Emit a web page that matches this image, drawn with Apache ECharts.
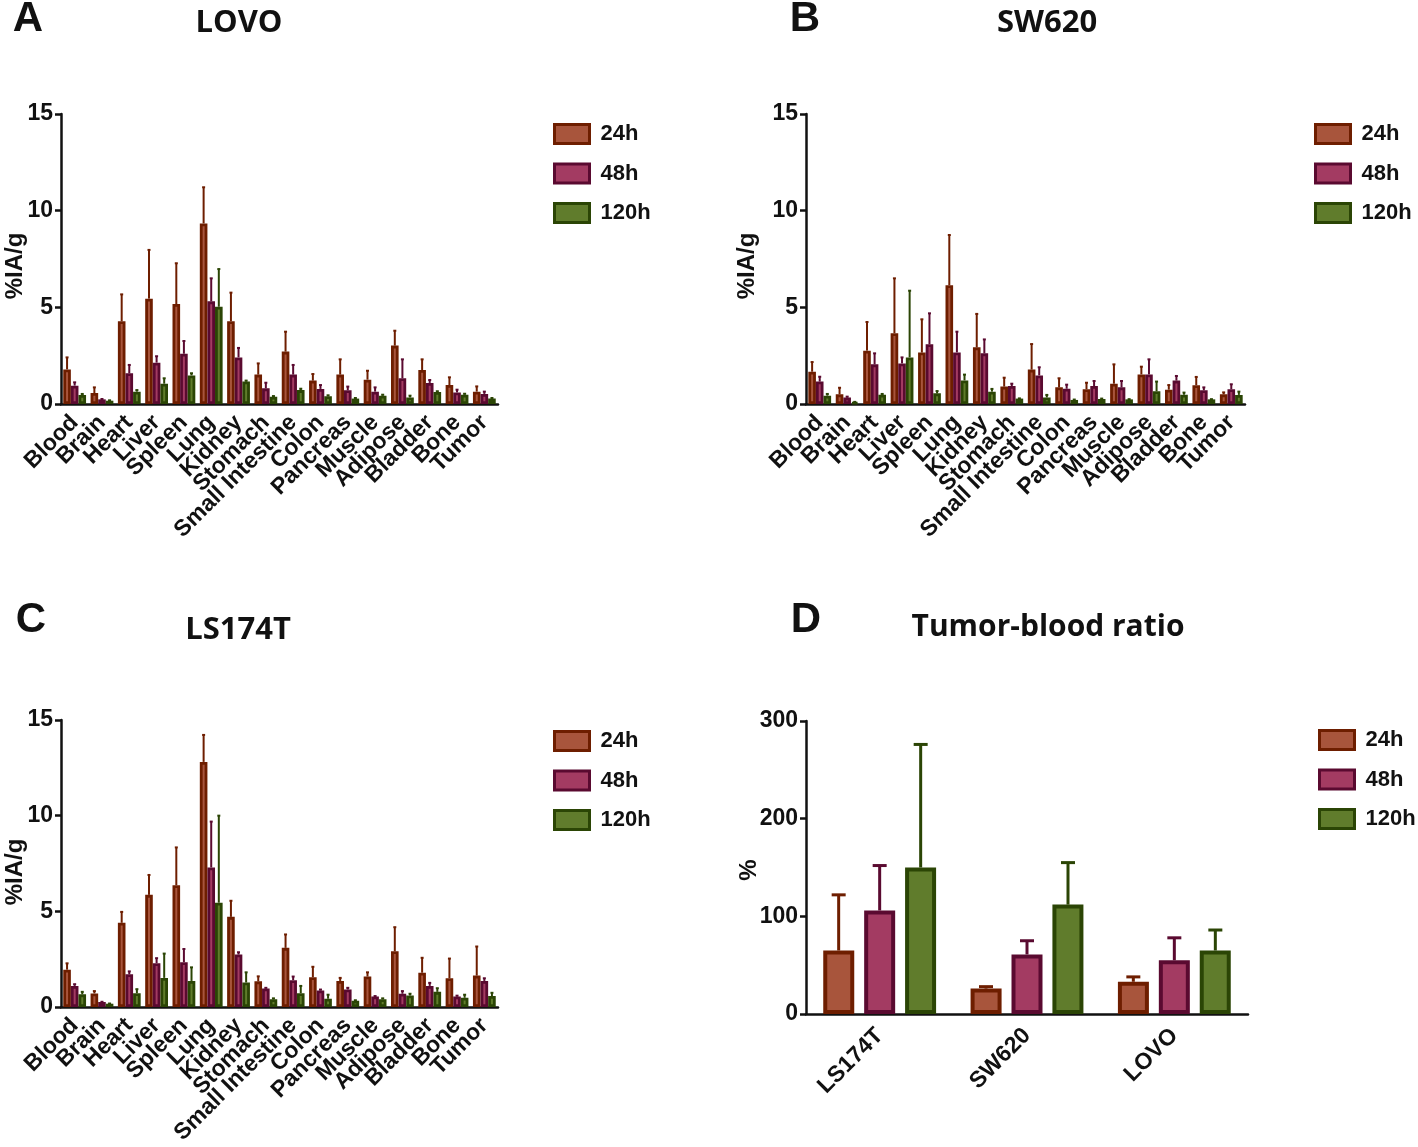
<!DOCTYPE html>
<html><head><meta charset="utf-8">
<script src="https://cdn.jsdelivr.net/npm/echarts@6/dist/echarts.min.js"></script>
<style>html,body{margin:0;padding:0;background:#fff}#c{width:1418px;height:1147px}</style>
</head><body><div id="c"></div>
<script>
const organs = ['Blood','Brain','Heart','Liver','Spleen','Lung','Kidney','Stomach','Small Intestine','Colon','Pancreas','Muscle','Adipose','Bladder','Bone','Tumor'];
const timeNames = ['24h','48h','120h'];
const yTicksOrgan = [0,5,10,15];
const yTicksRatio = [0,100,200,300];

// Panel A: LOVO
const lovo24 = [1.79,0.57,4.28,5.45,5.17,9.34,4.28,1.52,2.71,1.21,1.52,1.26,3.02,1.76,0.98,0.64];
const lovo24Sd = [0.62,0.29,1.39,2.52,2.11,1.87,1.48,0.58,1.03,0.34,0.79,0.46,0.77,0.55,0.40,0.27];
const lovo48 = [0.95,0.24,1.59,2.14,2.60,5.31,2.41,0.81,1.52,0.78,0.71,0.64,1.33,1.09,0.60,0.52];
const lovo48Sd = [0.17,0.02,0.43,0.33,0.66,1.19,0.49,0.29,0.50,0.20,0.19,0.22,0.98,0.15,0.14,0.12];
const lovo120 = [0.47,0.17,0.64,1.05,1.48,5.03,1.16,0.38,0.72,0.40,0.28,0.43,0.34,0.62,0.48,0.29];
const lovo120Sd = [0.05,0.02,0.08,0.28,0.11,1.95,0.05,0.03,0.07,0.05,0.03,0.05,0.09,0.04,0.05,0.02];

// Panel B: SW620
const sw24 = [1.67,0.50,2.76,3.66,2.66,6.14,2.93,0.90,1.78,0.86,0.76,1.05,1.53,0.74,0.97,0.50];
const sw24Sd = [0.50,0.34,1.48,2.84,1.72,2.60,1.73,0.46,1.32,0.47,0.34,1.00,0.40,0.24,0.43,0.10];
const sw48 = [1.16,0.33,2.05,2.10,3.09,2.67,2.62,0.93,1.48,0.79,0.93,0.86,1.53,1.21,0.71,0.76];
const sw48Sd = [0.25,0.05,0.57,0.31,1.60,1.07,0.72,0.12,0.42,0.21,0.26,0.33,0.78,0.24,0.15,0.26];
const sw120 = [0.43,0.10,0.48,2.41,0.55,1.22,0.64,0.28,0.34,0.21,0.26,0.24,0.66,0.48,0.24,0.47];
const sw120Sd = [0.09,0.01,0.04,3.45,0.12,0.30,0.14,0.01,0.13,0.02,0.02,0.01,0.50,0.11,0.01,0.17];

// Panel C: LS174T
const ls24 = [1.95,0.71,4.40,5.86,6.36,12.81,4.71,1.34,3.09,1.55,1.36,1.59,2.91,1.79,1.50,1.64];
const ls24Sd = [0.33,0.12,0.57,1.04,1.98,1.41,0.84,0.26,0.70,0.55,0.16,0.22,1.26,0.78,1.03,1.52];
const ls48 = [1.10,0.26,1.71,2.29,2.34,7.29,2.74,0.97,1.40,0.86,0.91,0.55,0.69,1.10,0.55,1.36];
const ls48Sd = [0.09,0.01,0.15,0.26,0.69,2.40,0.12,0.03,0.19,0.05,0.09,0.02,0.14,0.16,0.04,0.14];
const ls120 = [0.66,0.17,0.72,1.52,1.36,5.45,1.28,0.40,0.72,0.43,0.33,0.40,0.60,0.79,0.48,0.57];
const ls120Sd = [0.13,0.01,0.21,1.27,0.71,4.55,0.53,0.05,0.38,0.21,0.02,0.05,0.09,0.19,0.16,0.17];

// Panel D: Tumor-blood ratio
const cellLines = ['LS174T','SW620','LOVO'];
const ratio24 = [65,26,33];
const ratio24Sd = [57,2,5];
const ratio48 = [106,61,55];
const ratio48Sd = [46,14,23];
const ratio120 = [150,112,65];
const ratio120Sd = [126,43,21];

const fills = ['#a8553c','#a33b62','#607c2c'];
const borders = ['#6e1e00','#5a0a30','#2b4505'];
const AX = '#111';
const F = '"Liberation Sans", Arial, sans-serif';
const FT = '"Open Sans", "Liberation Sans", sans-serif';

const grids = [
  {left:61, top:114, width:437, height:290},
  {left:806, top:114, width:439, height:290},
  {left:61, top:720, width:437, height:290},
  {left:806, top:721, width:442, height:293}
];

function xAx(gi, cats, fs, mg) {
  return {type:'category', gridIndex:gi, data:cats,
    axisLine:{lineStyle:{color:AX,width:2.5}},
    axisTick:{alignWithLabel:true,length:6,lineStyle:{color:AX,width:2.5}},
    axisLabel:{rotate:45,color:AX,fontFamily:F,fontWeight:'bold',fontSize:fs,margin:mg,interval:0}};
}
function yAx(gi, max, iv, fs) {
  return {type:'value', gridIndex:gi, min:0, max:max, interval:iv,
    axisLine:{show:true,lineStyle:{color:AX,width:2.5}},
    axisTick:{show:true,length:6,lineStyle:{color:AX,width:2.5}},
    splitLine:{show:false},
    axisLabel:{color:AX,fontFamily:F,fontWeight:'bold',fontSize:fs,margin:8}};
}
function bar(gi, k, vals, bw, gap, bwid) {
  return {type:'bar', name:timeNames[k], xAxisIndex:gi, yAxisIndex:gi, data:vals,
    barWidth:bw, barGap:gap, z:3,
    itemStyle:{color:fills[k], borderColor:borders[k], borderWidth:bwid}};
}
function err(gi, k, vals, sds, spacing, lw, cap) {
  const off = (k-1)*spacing;
  return {type:'custom', xAxisIndex:gi, yAxisIndex:gi, z:2,
    data: vals.map((v,i)=>[i, v, v+sds[i]]),
    encode:{x:0,y:1},
    renderItem:(p,api)=>{
      const b = api.coord([api.value(0), api.value(1)]);
      const t = api.coord([api.value(0), api.value(2)]);
      const x = b[0]+off;
      return {type:'group', children:[
        {type:'line', shape:{x1:x,y1:b[1],x2:x,y2:t[1]}, style:{stroke:borders[k],lineWidth:lw}},
        {type:'line', shape:{x1:x-cap/2,y1:t[1],x2:x+cap/2,y2:t[1]}, style:{stroke:borders[k],lineWidth:lw}}
      ]};
    }};
}
function legend(left, top) {
  return {data:timeNames.map(n=>({name:n, icon:'rect'})), left:left, top:top, orient:'vertical', itemWidth:35, itemHeight:19, itemGap:17.5,
    itemStyle:{borderWidth:3}, selectedMode:false,
    textStyle:{color:AX,fontFamily:F,fontWeight:'bold',fontSize:22,padding:[0,0,0,6]}};
}

const organSets = [
  [[lovo24,lovo24Sd],[lovo48,lovo48Sd],[lovo120,lovo120Sd]],
  [[sw24,sw24Sd],[sw48,sw48Sd],[sw120,sw120Sd]],
  [[ls24,ls24Sd],[ls48,ls48Sd],[ls120,ls120Sd]]
];
const ratioSet = [[ratio24,ratio24Sd],[ratio48,ratio48Sd],[ratio120,ratio120Sd]];

const series = [];
organSets.forEach((set,gi)=>{
  set.forEach((s,k)=>{
    series.push(bar(gi,k,s[0],7.6,'0%',2.8));
    series.push(err(gi,k,s[0],s[1],7.6,2,3));
  });
});
ratioSet.forEach((s,k)=>{
  series.push(bar(3,k,s[0],31,'32%',4));
  series.push(err(3,k,s[0],s[1],41,3,14));
});

function txt(x,y,t,fs,fam,rot){
  return {type:'text', x:x, y:y, rotation:rot||0,
    style:{text:t, fontSize:fs, fontFamily:fam, fontWeight:'bold', fill:AX, textAlign:'center', textVerticalAlign:'middle'}};
}

const option = {
  animation:false,
  grid:grids,
  xAxis:[xAx(0,organs,23,15),xAx(1,organs,23,15),xAx(2,organs,23,15),xAx(3,cellLines,23,18)],
  yAxis:[yAx(0,15,5,23),yAx(1,15,5,23),yAx(2,15,5,23),yAx(3,300,100,23)],
  legend:[legend(548,118),legend(1309,118),legend(548,725),legend(1313,724)],
  series:series,
  graphic:[
    txt(28,19,'A',42,F), txt(805,19,'B',42,F), txt(31,620,'C',42,F), txt(806,620,'D',42,F),
    txt(239,23,'LOVO',31,FT), txt(1047,23,'SW620',31,FT), txt(238,630,'LS174T',31,FT), txt(1048,627,'Tumor-blood ratio',30,FT),
    txt(15,266,'%IA/g',24,F,Math.PI/2), txt(747,266,'%IA/g',24,F,Math.PI/2),
    txt(15,872,'%IA/g',24,F,Math.PI/2), txt(749,870,'%',24,F,Math.PI/2)
  ]
};
const chart = echarts.init(document.getElementById('c'));
chart.setOption(option);
</script></body></html>
